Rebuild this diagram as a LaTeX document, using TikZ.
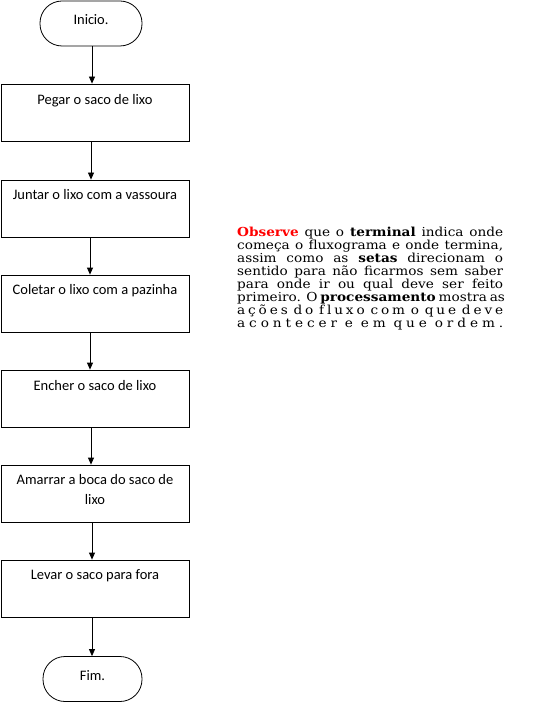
\documentclass[tikz,border=0pt]{standalone}
\usepackage{fontspec}
\setmainfont{Carlito}
\newfontfamily\parafont[FakeStretch=1.10]{DejaVu Serif}
\usetikzlibrary{arrows.meta}
\definecolor{obsred}{RGB}{255,0,0}
\tikzset{
  proc/.style={draw=black, line width=0.8pt, minimum width=188pt, minimum height=57pt, inner sep=0pt},
  term/.style={draw=black, line width=0.8pt, rounded corners=22pt, minimum width=102pt, minimum height=45pt, inner sep=0pt},
  lbl/.style={font=\fontsize{14.5}{20}\selectfont, align=center},
  conn/.style={draw=black, line width=0.8pt, -{Triangle[length=7pt,width=6pt]}}
}
\newcommand{\jline}[1]{\makebox[266pt][s]{#1}}
\begin{document}
\begin{tikzpicture}[x=1pt,y=-1pt]
\useasboundingbox (0,0) rectangle (542,703);
\node[term] (start) at (91,23.5) {};
\node[lbl] at (91,20) {Inic\kern-0.5pt io.};
\node[proc] (b1) at (95,112.5) {};
\node[lbl, anchor=center] at (95,101) {Pegar o saco de lixo};
\node[proc] (b2) at (95,208.5) {};
\node[lbl] at (95,195) {Juntar o lixo com a vassoura};
\node[proc] (b3) at (95,303.5) {};
\node[lbl] at (95,291) {Coletar o lixo com a pazinha};
\node[proc] (b4) at (95,398.5) {};
\node[lbl] at (95,386) {Encher o saco de lixo};
\node[proc] (b5) at (95,493.5) {};
\node[lbl] at (95,490) {Amarrar a boca do saco de\\lixo};
\node[proc] (b6) at (95,588.5) {};
\node[lbl] at (95,576) {Levar o saco para fora};
\node[term, minimum width=99pt] (end) at (92.5,679) {};
\node[lbl] at (92.5,676) {Fim.};
\draw[conn] (start.south -| 92,0) -- (b1.north -| 92,0);
\draw[conn] (b1.south -| 91,0) -- (b2.north -| 91,0);
\draw[conn] (b2.south -| 90,0) -- (b3.north -| 90,0);
\draw[conn] (b3.south -| 90,0) -- (b4.north -| 90,0);
\draw[conn] (b4.south -| 91,0) -- (b5.north -| 91,0);
\draw[conn] (b5.south -| 92,0) -- (b6.north -| 92,0);
\draw[conn] (b6.south -| 92,0) -- (end.north -| 92,0);
\node[anchor=north west, inner sep=0pt, align=left, font=\parafont\fontsize{12.4}{13}\selectfont] (para) at (237,227) {%
\jline{\textcolor{obsred}{\textbf{Observe}} que o \textbf{terminal} indica onde}\\
\jline{começa o fluxograma e onde termina,}\\
\jline{assim como as \textbf{setas} direcionam o}\\
\jline{sentido para não ficarmos sem saber}\\
\jline{para onde ir ou qual deve ser feito}\\
\jline{primeiro. O \textbf{processamento} mostra as}\\
\hbox to 266pt{a\hfil ç\hfil õ\hfil e\hfil s\hfil\hfil d\hfil o\hfil\hfil f\hfil l\hfil u\hfil x\hfil o\hfil\hfil c\hfil o\hfil m\hfil\hfil o\hfil\hfil q\hfil u\hfil e\hfil\hfil d\hfil e\hfil v\hfil e}\\
\hbox to 266pt{a\hfil c\hfil o\hfil n\hfil t\hfil e\hfil c\hfil e\hfil r\hfil\hfil e\hfil\hfil e\hfil m\hfil\hfil q\hfil u\hfil e\hfil\hfil o\hfil r\hfil d\hfil e\hfil m\hfil .}};
\end{tikzpicture}
\end{document}
